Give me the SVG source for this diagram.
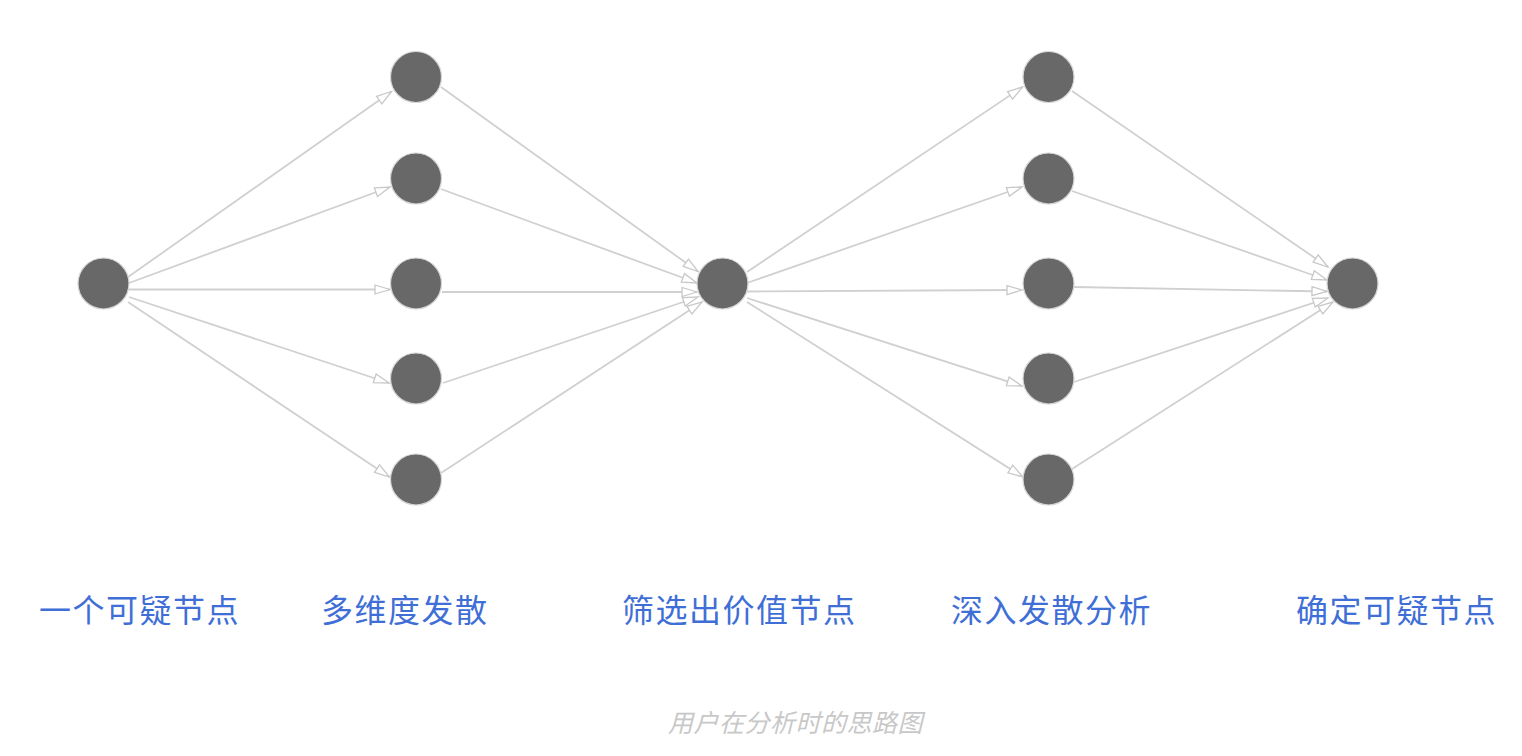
<svg xmlns="http://www.w3.org/2000/svg" width="1522" height="756" viewBox="0 0 1522 756">
<style>
.node{fill:#686868;stroke:#d6d6d6;stroke-width:1.2}
.edge{stroke:#d0d0d0;stroke-width:1.8;fill:none;marker-end:url(#arr)}
.lbl{font-family:"Noto Sans CJK SC","Noto Sans",sans-serif;font-size:32px;letter-spacing:1.5px;fill:#3f6fd6}
.cap{font-family:"Noto Sans CJK SC","Noto Sans",sans-serif;font-size:25px;letter-spacing:0.5px;fill:#c8c8c8;font-style:italic}
</style>
<defs>
<marker id="arr" markerUnits="userSpaceOnUse" markerWidth="18" markerHeight="14" refX="16" refY="6" orient="auto">
<path d="M1,1.5 L16,6 L1,10.5 Z" fill="#ffffff" stroke="#c8c8c8" stroke-width="1.3"/>
</marker>
</defs>
<rect width="1522" height="756" fill="#ffffff"/>
<g id="connectors">
<line class="edge" x1="128" y1="277" x2="391.5" y2="91.5"/>
<line class="edge" x1="129" y1="283" x2="390" y2="187"/>
<line class="edge" x1="129" y1="289.5" x2="390" y2="289.5"/>
<line class="edge" x1="129" y1="297" x2="389" y2="383"/>
<line class="edge" x1="128" y1="302" x2="389.5" y2="477"/>
<line class="edge" x1="441" y1="87" x2="698" y2="271.5"/>
<line class="edge" x1="441" y1="189" x2="697" y2="283"/>
<line class="edge" x1="442" y1="292" x2="697" y2="292"/>
<line class="edge" x1="443" y1="383" x2="698" y2="297"/>
<line class="edge" x1="441" y1="473" x2="702" y2="302"/>
<line class="edge" x1="747" y1="272" x2="1022.5" y2="87"/>
<line class="edge" x1="747" y1="283" x2="1022" y2="187"/>
<line class="edge" x1="747" y1="291.5" x2="1022" y2="290"/>
<line class="edge" x1="747" y1="298" x2="1022" y2="386"/>
<line class="edge" x1="747" y1="302" x2="1023" y2="477"/>
<line class="edge" x1="1072" y1="91" x2="1328" y2="267"/>
<line class="edge" x1="1072" y1="191" x2="1327" y2="280"/>
<line class="edge" x1="1073" y1="287" x2="1327" y2="291.5"/>
<line class="edge" x1="1074" y1="382" x2="1328" y2="298"/>
<line class="edge" x1="1072" y1="469" x2="1333" y2="302"/>
</g>
<g id="n0"><circle class="node" cx="103.5" cy="283.5" r="25.5"/></g>
<g id="n1a"><circle class="node" cx="416" cy="77" r="25.5"/></g>
<g id="n1b"><circle class="node" cx="416" cy="178.5" r="25.5"/></g>
<g id="n1c"><circle class="node" cx="416" cy="283.5" r="25.5"/></g>
<g id="n1d"><circle class="node" cx="416" cy="378.5" r="25.5"/></g>
<g id="n1e"><circle class="node" cx="416" cy="479.5" r="25.5"/></g>
<g id="n2"><circle class="node" cx="722.5" cy="283.5" r="25.5"/></g>
<g id="n3a"><circle class="node" cx="1048.5" cy="77" r="25.5"/></g>
<g id="n3b"><circle class="node" cx="1048.5" cy="178.5" r="25.5"/></g>
<g id="n3c"><circle class="node" cx="1048.5" cy="283.5" r="25.5"/></g>
<g id="n3d"><circle class="node" cx="1048.5" cy="378.5" r="25.5"/></g>
<g id="n3e"><circle class="node" cx="1048.5" cy="479.5" r="25.5"/></g>
<g id="n4"><circle class="node" cx="1352.5" cy="283.5" r="25.5"/></g>
<g id="labels">
<text class="lbl" x="39" y="622">一个可疑节点</text>
<text class="lbl" x="321" y="622">多维度发散</text>
<text class="lbl" x="622" y="622">筛选出价值节点</text>
<text class="lbl" x="951" y="622">深入发散分析</text>
<text class="lbl" x="1296" y="622">确定可疑节点</text>
<text class="cap" x="668" y="732">用户在分析时的思路图</text>
</g>
</svg>
